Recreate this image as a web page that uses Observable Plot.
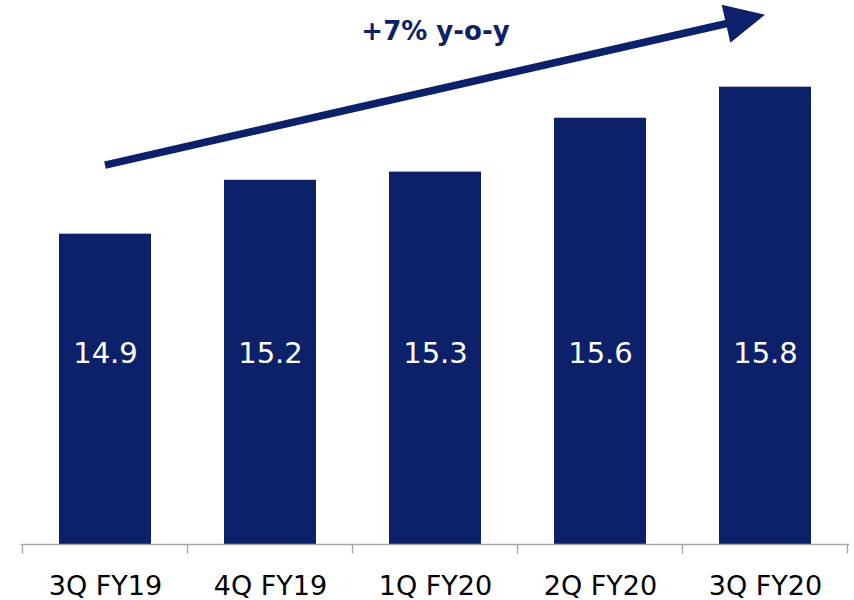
<!DOCTYPE html>
<html>
<head>
<meta charset="utf-8">
<script src="https://cdn.jsdelivr.net/npm/d3@7"></script>
<script src="https://cdn.jsdelivr.net/npm/@observablehq/plot@0.6"></script>
<style>
  body { margin: 0; background: #ffffff; }
</style>
</head>
<body>
<div id="chart"></div>
<script>
// ---- data ----
const categories = ["3Q FY19", "4Q FY19", "1Q FY20", "2Q FY20", "3Q FY20"];
// bar heights (labels show them rounded to one decimal)
const values = [14.9, 15.23, 15.28, 15.61, 15.8];
const yDomain = [13, 16];
const trendLabel = "+7% y-o-y";
const trendLabelAt = ["1Q FY20", 16.14];
const trendFrom = ["3Q FY19", 15.32];
const trendTo = ["3Q FY20", 16.24];
const valueLabelLevel = 14.17;

// ---- build ----
const data = categories.map((c, i) => ({category: c, value: values[i]}));
const navy = "#0c216a";
const axisGray = "#a6a6a6";

function trendArrow(index, scales) {
  const {x, y} = scales;
  const cx = c => x(c) + x.bandwidth() / 2;
  const x0 = cx(trendFrom[0]), y0 = y(trendFrom[1]);
  const x1 = cx(trendTo[0]), y1 = y(trendTo[1]);
  const dx = x1 - x0, dy = y1 - y0, len = Math.hypot(dx, dy);
  const ux = dx / len, uy = dy / len, nx = -uy, ny = ux;
  const headLen = 40, headHalf = 19.5;
  const bx = x1 - ux * headLen, by = y1 - uy * headLen;
  const g = d3.create("svg:g");
  g.append("line")
    .attr("x1", x0).attr("y1", y0)
    .attr("x2", bx + ux * 2).attr("y2", by + uy * 2)
    .attr("stroke", navy).attr("stroke-width", 7.5);
  g.append("polygon")
    .attr("points", [[x1, y1], [bx + nx * headHalf, by + ny * headHalf], [bx - nx * headHalf, by - ny * headHalf]].map(p => p.join(",")).join(" "))
    .attr("fill", navy);
  return g.node();
}

function boundaryTicks(index, scales) {
  const {x, y} = scales;
  const gap = (x.step() - x.bandwidth()) / 2;
  const xs = categories.map(c => x(c) - gap);
  xs.push(x(categories[categories.length - 1]) + x.bandwidth() + gap);
  const y0 = y(yDomain[0]);
  const g = d3.create("svg:g");
  for (const xv of xs) {
    g.append("line")
      .attr("x1", xv).attr("x2", xv)
      .attr("y1", y0).attr("y2", y0 + 9.5)
      .attr("stroke", axisGray).attr("stroke-width", 1.3);
  }
  return g.node();
}

const chart = Plot.plot({
  width: 854,
  height: 600,
  marginLeft: 21,
  marginRight: 5,
  marginTop: 54,
  marginBottom: 56,
  style: {fontFamily: "DejaVu Sans", fontSize: "27px", color: "#000", background: "#fff"},
  x: {domain: categories, paddingInner: 0.444, paddingOuter: 0.222, tickSize: 0, tickPadding: 31, label: null},
  y: {domain: yDomain, axis: null},
  marks: [
    Plot.barY(data, {x: "category", y1: yDomain[0], y2: "value", fill: navy}),
    Plot.ruleY([yDomain[0]], {stroke: axisGray, strokeWidth: 1.3}),
    boundaryTicks,
    Plot.text(data, {x: "category", y: () => valueLabelLevel, text: d => d.value.toFixed(1), fill: "#ffffff", fontSize: 29}),
    trendArrow,
    Plot.text([trendLabel], {x: () => trendLabelAt[0], y: () => trendLabelAt[1], text: d => d, fill: navy, fontSize: 26, fontWeight: "bold"})
  ]
});
document.getElementById("chart").appendChild(chart);
</script>
</body>
</html>
